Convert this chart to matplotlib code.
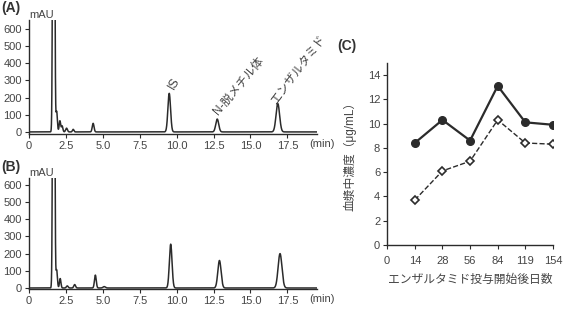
import numpy as np
import matplotlib
matplotlib.use("Agg")
from matplotlib import pyplot as plt

plt.rcParams['font.family'] = ['Liberation Sans', 'Noto Sans CJK JP']
plt.rcParams['font.size'] = 8

# chromatogram peaks: retention time (min), height (mAU), width (sigma, min)
peak_time_a = [1.68, 1.88, 2.1, 2.25, 2.55, 3.0, 4.35, 9.5, 12.75, 16.85]
peak_height_a = [5000, 120, 65, 35, 22, 15, 50, 225, 75, 165]
peak_width_a = [0.05, 0.05, 0.05, 0.05, 0.06, 0.05, 0.06, 0.09, 0.1, 0.12]

peak_time_b = [1.68, 1.88, 2.12, 2.6, 3.1, 4.5, 5.1, 9.6, 12.9, 17.0]
peak_height_b = [5000, 105, 55, 12, 20, 75, 8, 255, 160, 200]
peak_width_b = [0.05, 0.05, 0.05, 0.06, 0.06, 0.06, 0.08, 0.09, 0.11, 0.13]

# panel C
days = ['0', '14', '28', '56', '84', '119', '154']
conc_solid = [8.4, 10.3, 8.6, 13.1, 10.1, 9.9]
conc_open = [3.7, 6.1, 6.9, 10.3, 8.4, 8.3]

dark = '#2b2b2b'
txt = '#444444'


def trace(times, heights, widths):
    t = np.linspace(0, 19.5, 4000)
    y = np.zeros_like(t)
    for t0, h, w in zip(times, heights, widths):
        y += h * np.exp(-0.5 * ((t - t0) / w) ** 2)
    return t, y


def style(ax):
    for s in ['top', 'right']:
        ax.spines[s].set_visible(False)
    for s in ['left', 'bottom']:
        ax.spines[s].set_color(dark)
        ax.spines[s].set_linewidth(1.0)
    ax.tick_params(colors=txt, length=3, width=0.8, labelsize=8, pad=2)
    ax.tick_params(axis='both', color=dark)


fig = plt.figure(figsize=(5.66, 3.19), dpi=100)

xt = [0, 2.5, 5.0, 7.5, 10.0, 12.5, 15.0, 17.5]
xtl = ['0', '2.5', '5.0', '7.5', '10.0', '12.5', '15.0', '17.5']

# (A)
axa = fig.add_axes([0.051, 0.580, 0.509, 0.357])
t, y = trace(peak_time_a, peak_height_a, peak_width_a)
axa.plot(t, y, color=dark, lw=1.1)
axa.set_xlim(0, 19.5)
axa.set_ylim(-12, 652)
axa.set_yticks(range(0, 700, 100))
axa.set_xticks(xt)
axa.set_xticklabels(xtl)
style(axa)
axa.text(18.95, -40, '(min)', color=txt, fontsize=8, va='top', ha='left')
axa.text(0.0, 1.0, 'mAU', transform=axa.transAxes, color=txt, fontsize=8, ha='left', va='bottom')
# peak labels
axa.text(9.86, 280, 'IS', rotation=60, color=txt, fontsize=9, ha='center', va='center', rotation_mode='anchor')
axa.text(14.2, 268, 'N-脱メチル体', rotation=50, color=txt, fontsize=8.5, ha='center', va='center', rotation_mode='anchor')
axa.text(18.3, 361, 'エンザルタミド', rotation=53, color=txt, fontsize=8.5, ha='center', va='center', rotation_mode='anchor')
fig.text(0.003, 0.975, '(A)', fontsize=10, fontweight='bold', color='#333333', va='center')

# (B)
axb = fig.add_axes([0.051, 0.094, 0.509, 0.348])
t, y = trace(peak_time_b, peak_height_b, peak_width_b)
axb.plot(t, y, color=dark, lw=1.1)
axb.set_xlim(0, 19.5)
axb.set_ylim(-6, 640)
axb.set_yticks(range(0, 700, 100))
axb.set_xticks(xt)
axb.set_xticklabels(xtl)
style(axb)
axb.text(18.95, -34, '(min)', color=txt, fontsize=8, va='top', ha='left')
axb.text(0.0, 1.0, 'mAU', transform=axb.transAxes, color=txt, fontsize=8, ha='left', va='bottom')
fig.text(0.003, 0.475, '(B)', fontsize=10, fontweight='bold', color='#333333', va='center')

# (C)
axc = fig.add_axes([0.684, 0.232, 0.293, 0.571])
xpos = np.arange(1, len(days))
axc.plot(xpos, conc_solid, '-o', color=dark, lw=1.6, ms=5.5, mfc=dark, mec=dark)
axc.plot(xpos, conc_open, '--D', color=dark, lw=1.0, ms=4.3, mfc='white', mec=dark, mew=1.2)
axc.set_xlim(0, 6)
axc.set_ylim(0, 15)
axc.set_yticks(range(0, 15, 2))
axc.set_xticks(range(len(days)))
axc.set_xticklabels(days)
style(axc)
axc.tick_params(axis='x', pad=5)
axc.set_xlabel('エンザルタミド投与開始後日数', color=txt, fontsize=8.5, labelpad=6)
axc.set_ylabel('血漿中濃度（μg/mL）', color=txt, fontsize=8.5, labelpad=8)
fig.text(0.595, 0.855, '(C)', fontsize=10, fontweight='bold', color='#333333', va='center')

fig.savefig('out.png', dpi=100)
